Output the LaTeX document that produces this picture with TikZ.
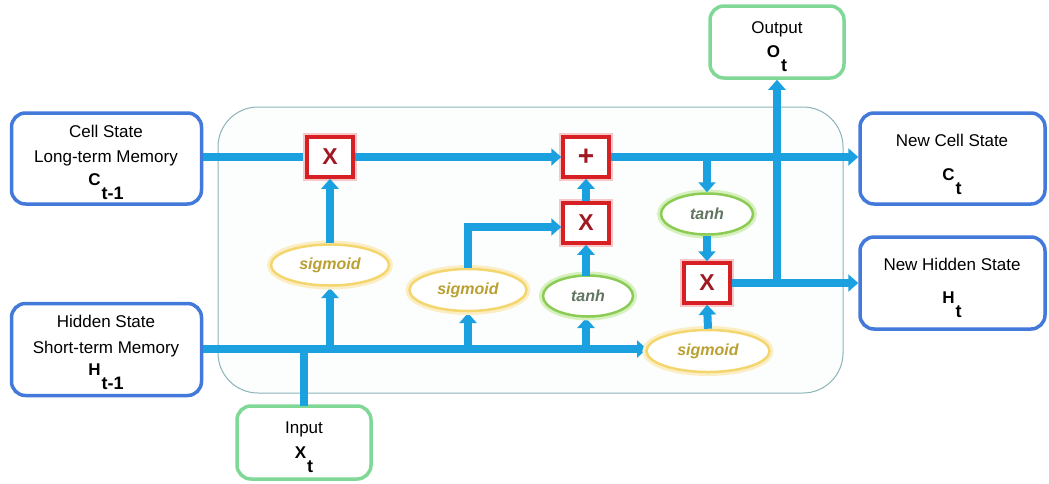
\documentclass[tikz,border=0pt]{standalone}
\usepackage{fontspec}
\setmainfont{Liberation Sans}
\usetikzlibrary{arrows.meta,shapes.geometric}

\definecolor{boxblue}{RGB}{66,121,218}
\definecolor{boxgreen}{RGB}{128,216,150}
\definecolor{flowblue}{RGB}{27,161,224}
\definecolor{cellfill}{RGB}{252,254,254}
\definecolor{celledge}{RGB}{140,180,184}
\definecolor{oped}{RGB}{214,32,36}
\definecolor{opglow}{RGB}{248,200,200}
\definecolor{optext}{RGB}{160,24,34}
\definecolor{sigedge}{RGB}{244,214,110}
\definecolor{sigglow}{RGB}{252,238,196}
\definecolor{sigtext}{RGB}{186,160,48}
\definecolor{tanhedge}{RGB}{140,204,84}
\definecolor{tanhglow}{RGB}{214,240,190}
\definecolor{tanhtext}{RGB}{96,116,96}

% variable with a raised letter and a lowered index
\newcommand\statevar[2]{{\bfseries\fontsize{17}{19}\selectfont #1\kern1pt\raisebox{-14pt}{\fontsize{18}{20}\selectfont #2}}}

\begin{document}
\begin{tikzpicture}[x=1pt,y=-1pt,
  statebox/.style={draw=boxblue, line width=3.5pt, rounded corners=14pt, fill=white, inner sep=0pt},
  iobox/.style={draw=boxgreen, line width=3.5pt, rounded corners=14pt, fill=white, inner sep=0pt},
  lbl/.style={anchor=base, inner sep=0pt, font=\fontsize{17}{20}\selectfont},
  var/.style={anchor=base, inner sep=0pt},
  opbox/.style={draw=oped, line width=3.5pt, fill=white, minimum width=46pt, minimum height=40pt,
    inner sep=0pt, preaction={draw=opglow, line width=8pt},
    text=optext, font=\fontsize{23}{24}\selectfont\bfseries},
  sigbox/.style={ellipse, draw=sigedge, line width=2.5pt, fill=white, inner sep=0pt,
    preaction={draw=sigglow, line width=8pt},
    text=sigtext, font=\fontsize{16}{18}\selectfont\bfseries\itshape},
  tanhbox/.style={ellipse, draw=tanhedge, line width=2.5pt, fill=white, inner sep=0pt,
    preaction={draw=tanhglow, line width=8pt},
    text=tanhtext, font=\fontsize{16}{18}\selectfont\bfseries\itshape},
  flow/.style={draw=flowblue, line width=8pt, -{Triangle[width=17pt,length=10pt]}},
  wire/.style={draw=flowblue, line width=8pt}
]
\useasboundingbox (0,0) rectangle (1049,483);

% LSTM cell body
\node[draw=celledge, line width=1pt, fill=cellfill, rounded corners=40pt,
  minimum width=625pt, minimum height=286pt, inner sep=0pt] (cell) at (530.5,250) {};

% inputs and outputs
\node[statebox, minimum width=190pt, minimum height=91pt] (cprev) at (106.5,158.5) {};
\node[lbl] (cprevA) at (106,137) {Cell State};
\node[lbl] (cprevB) at (106,162) {Long-term Memory};
\node[var] (cprevV) at (106,185) {\statevar{C}{t-1}};

\node[statebox, minimum width=190pt, minimum height=92pt] (hprev) at (106.5,349.5) {};
\node[lbl] (hprevA) at (106,327) {Hidden State};
\node[lbl] (hprevB) at (106,353) {Short-term Memory};
\node[var] (hprevV) at (106,375) {\statevar{H}{t-1}};

\node[iobox, minimum width=134pt, minimum height=73pt] (in) at (304,442.5) {};
\node[lbl] (inA) at (304,433) {Input};
\node[var] (inV) at (304,458) {\statevar{X}{t}};

\node[iobox, minimum width=134pt, minimum height=72pt] (out) at (777,42) {};
\node[lbl] (outA) at (777,33) {Output};
\node[var] (outV) at (777,57) {\statevar{O}{t}};

\node[statebox, minimum width=185pt, minimum height=91pt] (cnew) at (952.5,158.5) {};
\node[lbl] (cnewA) at (952,146) {New Cell State};
\node[var] (cnewV) at (952,180) {\statevar{C}{t}};

\node[statebox, minimum width=185pt, minimum height=92pt] (hnew) at (952.5,283) {};
\node[lbl] (hnewA) at (952,270) {New Hidden State};
\node[var] (hnewV) at (952,303) {\statevar{H}{t}};

% junction points
\coordinate (hrow) at (0,349);
\coordinate (ctap) at (707,157);
\coordinate (hjoin) at (777,284);

% connectors (drawn below the gates)
\draw[flow] (cprev.east |- 0,157) -- (330,157) coordinate (m1in);
\draw[flow] (hprev.east |- hrow) -- (647,349) coordinate (s3in);
\draw[wire] (304,406) -- (304,349);
\draw[flow] (330,349) -- (330,288);
\draw[flow] (468,349) -- (468,313);
\draw[flow] (586,349) -- (586,318);

% gates
\node[opbox] (mul1) at (330,157) {X};
\node[opbox, font=\fontsize{28}{28}\selectfont\bfseries] (add) at (586,157) {+};
\node[opbox] (mul2) at (586,223) {X};
\node[opbox] (mul3) at (707,283) {X};

\node[sigbox, minimum width=118pt, minimum height=41pt] (sig1) at (330,265) {sigmoid};
\node[sigbox, minimum width=117pt, minimum height=42pt] (sig2) at (468,290) {sigmoid};
\node[tanhbox, minimum width=90pt, minimum height=41pt] (tanh1) at (588,296) {tanh};
\node[tanhbox, minimum width=92pt, minimum height=41pt] (tanh2) at (707,214) {tanh};
\node[sigbox, minimum width=123pt, minimum height=42pt] (sig3) at (708,351) {sigmoid};

% gate-to-gate connectors
\draw[flow] (sig1.north) -- (mul1.south);
\draw[flow] (mul1.east) -- (add.west);
\draw[flow] (add.east) -- (cnew.west |- add.east);
\draw[flow] (ctap) -- (tanh2.north);
\draw[flow] (tanh2.south) -- (mul3.north);
\draw[flow] (sig3.north) -- (mul3.south);
\draw[flow] (mul2.north) -- (add.south);
\draw[flow] (586,276) -- (mul2.south);
\draw[flow] (sig2.north) |- (mul2.west |- 0,227);
\draw[flow] (mul3.east) -- (hnew.west |- mul3.east);
\draw[flow] (hjoin) -- (out.south);
\end{tikzpicture}
\end{document}
